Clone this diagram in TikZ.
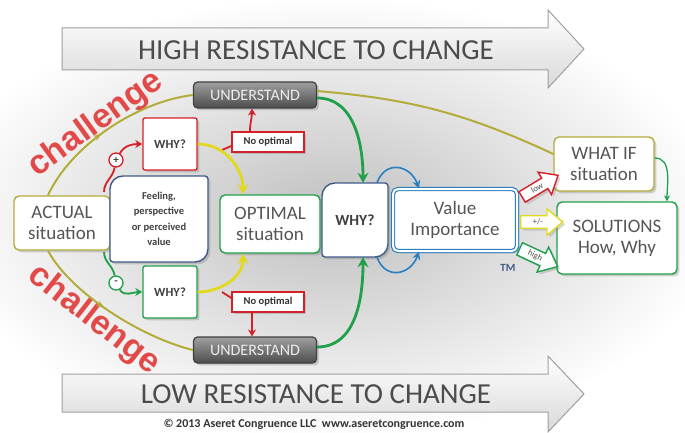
\documentclass[tikz,border=0pt]{standalone}
\usepackage{fontspec}
\setmainfont{Carlito}
\newfontfamily\challfont{Liberation Sans}
\usetikzlibrary{arrows.meta,shapes.arrows,shadows,fadings,decorations.markings}

\definecolor{cRouge}{HTML}{D42026}
\definecolor{cVert}{HTML}{1FA04A}
\definecolor{cJaune}{HTML}{E2D91F}
\definecolor{cOlive}{HTML}{B3AC3A}
\definecolor{cBleu}{HTML}{2A7FC1}
\definecolor{cArdoise}{HTML}{3F5C86}
\definecolor{cTexte}{HTML}{555555}
\definecolor{cChall}{HTML}{E24A4A}

\tikzfading[name=fondu, inner color=transparent!0, outer color=transparent!100]

\tikzset{
    boite/.style={draw, line width=1.4pt, fill=white, rounded corners=5pt, align=center,
        text=cTexte, font=\fontsize{19}{21}\selectfont, inner sep=1pt, drop shadow={opacity=0.35}},
    pourquoi/.style={boite, rounded corners=2pt, font=\bfseries\fontsize{12.5}{14}\selectfont,
        text=black!75, minimum width=54pt, minimum height=52pt},
    feuille/.style={draw=cArdoise, line width=1.4pt, fill=white, drop shadow={opacity=0.35}},
    compris/.style={draw=black!75, line width=1.2pt, rounded corners=4pt, top color=gray!75,
        bottom color=black!70, text=white!85!gray, font=\fontsize{16}{16}\selectfont,
        minimum width=123pt, minimum height=26pt, inner sep=0pt, drop shadow={opacity=0.35}},
    nonopt/.style={draw=cRouge, line width=1.3pt, fill=white, font=\bfseries\fontsize{10.5}{11}\selectfont,
        text=black!80, minimum width=72pt, minimum height=20pt, inner sep=0pt, drop shadow={opacity=0.35}},
    signe/.style={circle, draw, line width=1.3pt, fill=white, minimum size=14pt, inner sep=0pt,
        font=\bfseries\fontsize{11}{11}\selectfont, text=black!75},
    epais/.style={line width=2.8pt, -{Stealth[length=10pt,width=11pt]}},
    mince/.style={line width=1.8pt, -{Stealth[length=7pt,width=8pt]}},
    arcjaune/.style={draw=cOlive, line width=2pt, postaction={decorate},
        decoration={markings, mark=at position 0.45 with {\arrow{Stealth[length=8pt,width=6pt]}}}},
    creuse/.style={single arrow, draw, line width=1.4pt, fill=white, minimum height=42pt,
        single arrow head extend=7pt, single arrow tip angle=80, inner sep=2.4pt,
        font=\fontsize{8.5}{8.5}\selectfont, text=black!70, drop shadow={opacity=0.3}},
    grande/.style={draw=gray!75, line width=1pt, top color=white, bottom color=gray!30},
    titre/.style={text=gray!60!black, font=\fontsize{29}{29}\selectfont},
    chall/.style={text=cChall, font=\challfont\bfseries\fontsize{34}{34}\selectfont},
}

\begin{document}
\begin{tikzpicture}[x=1pt,y=1pt]
    % cadre : 685 x 432 (1 pt = 1 pixel)
    \useasboundingbox (0,0) rectangle (685,432);
    \fill[gray!50, path fading=fondu] (330,215) ellipse (390 and 220);
    \def\rg{13} % grand arrondi
    \def\rp{3}  % petit arrondi

    % grandes fleches
    \draw[grande] (62,404) -- (548,404) -- (548,422) -- (584,383) -- (548,344) -- (548,362) -- (62,362) -- cycle;
    \node[titre] (haut) at (316,382) {HIGH RESISTANCE TO CHANGE};
    \draw[grande] (62,58) -- (548,58) -- (548,76) -- (584,38) -- (548,0) -- (548,20) -- (62,20) -- cycle;
    \node[titre] (bas) at (316,38) {LOW RESISTANCE TO CHANGE};
    \node[font=\bfseries\fontsize{12}{12}\selectfont, text=black!80] (copy) at (314,8)
        {\textcopyright{} 2013 Aseret Congruence LLC\ \ www.aseretcongruence.com};

    % challenge
    \node[chall, rotate=36] (ch1) at (96,308) {challenge};
    \node[chall, rotate=-38] (ch2) at (94,112) {challenge};

    % WHY? + et -
    \node[pourquoi, draw=cRouge] (whyA) at (170,288) {WHY?};
    \node[pourquoi, draw=cVert] (whyB) at (170,140) {WHY?};
    \node[signe, draw=cRouge] (plus) at (116,272) {+};
    \node[signe, draw=cVert] (moins) at (116,149) {-};
    \coordinate (dp) at (104,240);
    \coordinate (dm) at (104,180);
    \draw[cRouge, line width=1.8pt] (dp) to[out=90,in=-100] (plus);
    \draw[cRouge, mince] (plus) to[out=60,in=180] (whyA.west);
    \draw[cVert, line width=1.8pt] (dm) to[out=-90,in=100] (moins);
    \draw[cVert, mince] (moins) to[out=-60,in=180] (whyB.west);

    % boites principales
    \node[boite, draw=cOlive, minimum width=96pt, minimum height=54pt] (actual) at (62,209) {ACTUAL\\situation};
    \draw[feuille] (110+\rp,170) -- (208-\rg,170) arc[start angle=-90,end angle=0,radius=\rg]
        -- (208,256-\rp) arc[start angle=0,end angle=90,radius=\rp]
        -- (110+\rg,256) arc[start angle=90,end angle=180,radius=\rg]
        -- (110,170+\rp) arc[start angle=180,end angle=270,radius=\rp] -- cycle;
    \node[align=center, font=\bfseries\fontsize{10.5}{15.5}\selectfont, text=black!75] (feeling) at (159,213)
        {Feeling,\\perspective\\or perceived\\value};
    \node[boite, draw=cVert, minimum width=100pt, minimum height=58pt] (optimal) at (270,208) {OPTIMAL\\situation};
    \draw[feuille] (322+\rp,175) -- (388-\rg,175) arc[start angle=-90,end angle=0,radius=\rg]
        -- (388,249-\rp) arc[start angle=0,end angle=90,radius=\rp]
        -- (322+\rg,249) arc[start angle=90,end angle=180,radius=\rg]
        -- (322,175+\rp) arc[start angle=180,end angle=270,radius=\rp] -- cycle;
    \node[font=\bfseries\fontsize{15.5}{16}\selectfont, text=black!75, minimum width=66pt, minimum height=74pt]
        (whyC) at (355,212) {WHY?};
    \node[boite, draw=cBleu, double=white, double distance=2pt, line width=1.2pt,
        minimum width=124pt, minimum height=62pt] (value) at (455,212) {Value\\Importance};
    \node[boite, draw=cOlive, minimum width=100pt, minimum height=54pt] (whatif) at (604,268) {WHAT IF\\situation};
    \node[boite, draw=cVert, minimum width=120pt, minimum height=72pt] (solutions) at (617,194) {SOLUTIONS\\How, Why};
    \node[text=cArdoise, font=\bfseries\fontsize{11}{11}\selectfont] (tm) at (508,164) {TM};

    \node[compris] (undA) at (255,337) {UNDERSTAND};
    \node[compris] (undB) at (255,82) {UNDERSTAND};
    \node[nonopt] (noA) at (268,290) {No optimal};
    \node[nonopt] (noB) at (268,130) {No optimal};

    % arcs jaunes
    \draw[arcjaune] ([xshift=-14]actual.north) .. controls (70,285) and (135,330) .. (undA.west);
    \draw[arcjaune] ([xshift=-14]actual.south) .. controls (70,140) and (140,95) .. (undB.west);

    % No optimal
    \coordinate (ra) at (222,282);
    \coordinate (rb) at (222,140);
    \draw[cRouge, line width=1.8pt] (ra) -- ([yshift=-4]noA.west);
    \draw[cRouge, mince] ([xshift=-18]noA.north) to[out=90,in=-90] ([xshift=-3]undA.south);
    \draw[cRouge, line width=1.8pt] (rb) -- ([yshift=4]noB.west);
    \draw[cRouge, mince] ([xshift=-16]noB.south) to[out=-90,in=90] ([xshift=-3]undB.north);

    % vers OPTIMAL
    \draw[cJaune, epais] (whyA.east) to[out=0,in=90] ([xshift=-27]optimal.north);
    \draw[cJaune, epais] (whyB.east) to[out=0,in=-90] ([xshift=-27]optimal.south);

    % vers WHY? central
    \draw[cVert, epais] ([yshift=-3]undA.east) to[out=0,in=90] ([xshift=8]whyC.north);
    \draw[cVert, epais] ([yshift=3]undB.east) to[out=0,in=-90] ([xshift=8]whyC.south);
    \draw[cBleu, line width=1.6pt, -{Stealth[length=8pt,width=8pt]}] ([xshift=22]whyC.north)
        to[out=70,in=110,looseness=1.5] ([xshift=-36]value.north);
    \draw[cBleu, line width=1.6pt, -{Stealth[length=8pt,width=8pt]}] ([xshift=22]whyC.south)
        to[out=-70,in=-110,looseness=1.5] ([xshift=-36]value.south);

    % vers WHAT IF et SOLUTIONS
    \draw[cOlive, line width=2pt] ([yshift=4]undA.east) to[bend left=10] ([yshift=10]whatif.west);
    \draw[cVert, line width=1.3pt, -{Stealth[length=6pt,width=6pt]}] ([yshift=6]whatif.east)
        to[out=0,in=90] ([xshift=50]solutions.north);
    \node[creuse, draw=cRouge, rotate=31] (low) at (537,244) {low};
    \node[creuse, draw=cJaune] (moyen) at (538,210) {+/-};
    \node[creuse, draw=cVert, rotate=-25] (high) at (535,176) {high};
\end{tikzpicture}
\end{document}
